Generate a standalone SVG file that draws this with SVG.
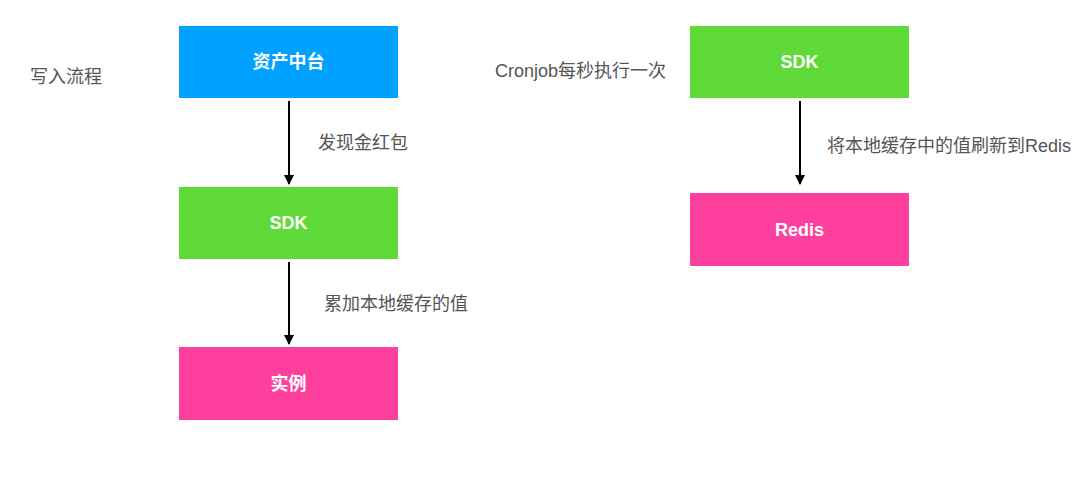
<svg xmlns="http://www.w3.org/2000/svg" width="1080" height="478" viewBox="0 0 1080 478">
<style>
.box{stroke:none}
.nt{font-family:"Liberation Sans","Noto Sans CJK SC",sans-serif;font-size:18px;font-weight:bold;fill:#fff;text-anchor:middle;dominant-baseline:central}
.lb{font-family:"Liberation Sans","Noto Sans CJK SC",sans-serif;font-size:18px;fill:#555;dominant-baseline:central}
.ln{stroke:#000;stroke-width:2;fill:none;marker-end:url(#ah)}
</style>
<defs>
<marker id="ah" viewBox="0 0 10 10" refX="9" refY="5" markerWidth="5" markerHeight="5" orient="auto" markerUnits="strokeWidth">
<path d="M0,0 L10,5 L0,10 z" fill="#000"/>
</marker>
</defs>
<rect width="1080" height="478" fill="#fff"/>
<text class="lb" x="30" y="77">写入流程</text>
<text class="lb" x="495" y="71">Cronjob每秒执行一次</text>
<g id="n1"><rect class="box" x="179" y="26" width="219" height="72" fill="#00A1FF"/><text class="nt" x="288.5" y="62">资产中台</text></g>
<g id="n2"><rect class="box" x="179" y="187" width="219" height="72" fill="#60DA39"/><text class="nt" x="288.5" y="223">SDK</text></g>
<g id="n3"><rect class="box" x="179" y="347" width="219" height="73" fill="#FF3F9D"/><text class="nt" x="288.5" y="384">实例</text></g>
<g id="n4"><rect class="box" x="690" y="26" width="219" height="72" fill="#60DA39"/><text class="nt" x="799.5" y="62">SDK</text></g>
<g id="n5"><rect class="box" x="690" y="193" width="219" height="73" fill="#FF3F9D"/><text class="nt" x="799.5" y="230">Redis</text></g>
<g id="connectors">
<line class="ln" x1="289" y1="101" x2="289" y2="184"/>
<line class="ln" x1="289" y1="262" x2="289" y2="344"/>
<line class="ln" x1="800" y1="101" x2="800" y2="184"/>
<text class="lb" x="318" y="143">发现金红包</text>
<text class="lb" x="324" y="304">累加本地缓存的值</text>
<text class="lb" x="827" y="146">将本地缓存中的值刷新到Redis</text>
</g>
</svg>
